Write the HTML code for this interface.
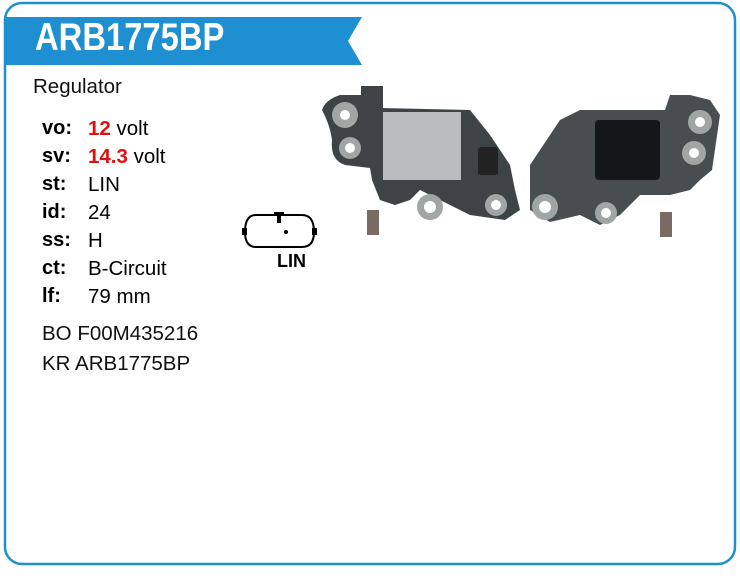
<!DOCTYPE html>
<html><head><style>
body{margin:0;width:740px;height:576px;background:#fff;position:relative;font-family:"Liberation Sans",sans-serif;overflow:hidden}
.t{position:absolute;font-size:20.5px;color:#111;white-space:nowrap}
.l{position:absolute;left:42px;font-weight:bold;font-size:20px}
.v{position:absolute;left:88px;font-size:20.5px}
.r{color:#e01010;font-weight:bold}
</style></head><body>
<svg width="740" height="576" style="position:absolute;left:0;top:0">
<rect x="5" y="3" width="730" height="561" rx="17" fill="none" stroke="#1e8fd0" stroke-width="2.5"/>
<polygon points="5,17 362,17 348,41 362,65 5,65" fill="#1e8fd0"/>
<path d="M256,215 H302 Q314,215 314,232 Q314,247 302,247 H256 Q245,247 245,232 Q245,215 256,215 Z" fill="#fff" stroke="#000" stroke-width="2"/>
<rect x="242" y="228" width="5" height="7" fill="#000"/><rect x="312" y="228" width="5" height="7" fill="#000"/>
<rect x="274" y="212" width="10" height="4" fill="#000"/><rect x="277" y="212" width="4" height="11" fill="#000"/>
<circle cx="286" cy="232" r="2" fill="#000"/>
<g fill="#3e4446">
<path d="M340,95 Q325,100 322,110 Q330,125 332,140 Q330,160 345,165 L370,168 L372,180 L380,200 L395,205 L410,200 L420,190 L440,200 L470,215 L505,220 L520,210 L515,190 L510,165 L490,135 L470,110 L380,108 L380,95 Z"/>
<rect x="361" y="86" width="22" height="30"/>
</g>
<rect x="383" y="112" width="78" height="68" fill="#b9bdbd"/>
<rect x="478" y="147" width="20" height="28" rx="3" fill="#222"/>
<rect x="367" y="210" width="12" height="25" fill="#7a6a64"/>
<g fill="#3e4446" fill-opacity="0.95">
<path d="M530,165 L560,120 L580,110 L665,110 L670,95 L690,95 L710,100 L720,115 L712,170 L700,180 L690,190 L670,195 L640,195 L620,215 L600,225 L580,215 L550,222 L530,210 Z"/>
</g>
<g fill="#a0a6a4"><circle cx="345" cy="115" r="13"/><circle cx="350" cy="148" r="11"/><circle cx="430" cy="207" r="13"/><circle cx="496" cy="205" r="11"/><circle cx="545" cy="207" r="13"/><circle cx="606" cy="213" r="11"/><circle cx="700" cy="122" r="12"/><circle cx="694" cy="153" r="12"/></g>
<g fill="#fff"><circle cx="345" cy="115" r="5"/><circle cx="350" cy="148" r="5"/><circle cx="430" cy="207" r="6"/><circle cx="496" cy="205" r="5"/><circle cx="545" cy="207" r="6"/><circle cx="606" cy="213" r="5"/><circle cx="700" cy="122" r="5"/><circle cx="694" cy="153" r="5"/></g>
<rect x="595" y="120" width="65" height="60" rx="4" fill="#141618"/>
<rect x="660" y="212" width="12" height="25" fill="#7a6a64"/>
</svg>
<div style="position:absolute;left:35px;top:16px;font-size:39px;font-weight:bold;color:#fff;transform:scaleX(0.84);transform-origin:0 0">ARB1775BP</div>
<div class="t" style="left:33px;top:75px">Regulator</div>
<div class="l" style="top:117px">vo:</div><div class="v" style="top:117px"><span class="r">12</span> volt</div>
<div class="l" style="top:145px">sv:</div><div class="v" style="top:145px"><span class="r">14.3</span> volt</div>
<div class="l" style="top:173px">st:</div><div class="v" style="top:173px">LIN</div>
<div class="l" style="top:201px">id:</div><div class="v" style="top:201px">24</div>
<div class="l" style="top:229px">ss:</div><div class="v" style="top:229px">H</div>
<div class="l" style="top:257px">ct:</div><div class="v" style="top:257px">B-Circuit</div>
<div class="l" style="top:285px">lf:</div><div class="v" style="top:285px">79 mm</div>
<div class="t" style="left:42px;top:322px">BO F00M435216</div>
<div class="t" style="left:42px;top:352px">KR ARB1775BP</div>
<div style="position:absolute;left:277px;top:251px;font-size:18px;font-weight:bold">LIN</div>
</body></html>
